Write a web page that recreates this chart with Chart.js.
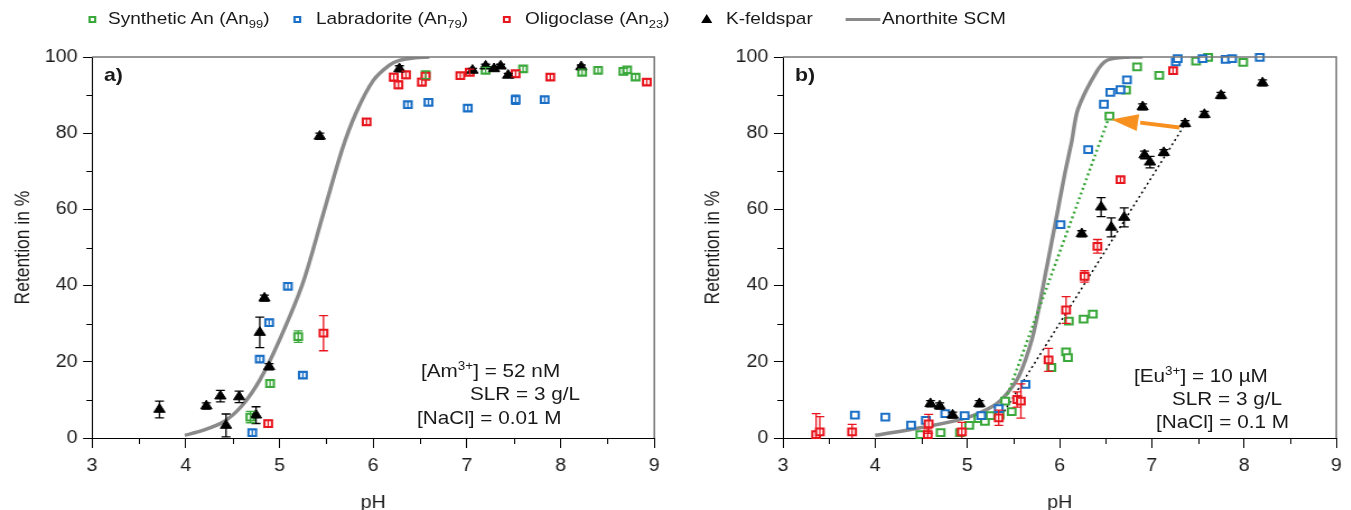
<!DOCTYPE html>
<html>
<head>
<meta charset="utf-8">
<script src="https://cdn.jsdelivr.net/npm/chart.js@4.4.1/dist/chart.umd.min.js"></script>
<style>
  html, body { margin: 0; padding: 0; background: #fff; }
  body { width: 1351px; height: 510px; overflow: hidden; position: relative; }
  #stage { position: absolute; left: 0; top: 0; height: 510px; transform-origin: 0 0;
           font-family: "Liberation Sans", Arial, sans-serif; color: #1a1a1a; }
  canvas { position: absolute; top: 0; }
  .txt { position: absolute; white-space: nowrap; font-size: 18.5px; line-height: 18px; }
  .lg { position: absolute; white-space: nowrap; font-size: 17px; line-height: 17px; top: 10px; }
  sub { font-size: 0.68em; vertical-align: -0.35em; line-height: 0; }
  sup { font-size: 0.65em; vertical-align: 0.55em; line-height: 0; }
  .mk { position: absolute; box-sizing: border-box; }
  .panel { font-weight: bold; font-size: 19px; }
</style>
</head>
<body>
<div id="stage">
  <canvas id="chartA" height="510"></canvas>
  <canvas id="chartB" height="510"></canvas>
</div>
<script>
// horizontal stretch of the original figure
const S = 1.12;

const GREEN = '#3aa83a';
const BLUE = '#1a6fc6';
const RED = '#e8161e';
const BLACK = '#000000';
const GREY = '#8a8a8a';
const ORANGE = '#f7901e';

// ---- panel a) Am(III), 52 nM ----
const phSynA  = [4.69, 4.90, 5.20, 6.56, 7.20, 7.60, 8.23, 8.40, 8.67, 8.71, 8.80];
const retSynA = [5.5, 14.3, 26.6, 95.3, 96.5, 96.9, 96.0, 96.5, 96.2, 96.6, 94.7];
const errSynA = [1.5, 1.0, 1.5, 1.0, 0.8, 0.8, 0.8, 0.8, 0.8, 0.8, 0.8];

const phLabA  = [4.71, 4.79, 4.89, 5.09, 5.25, 6.37, 6.59, 7.01, 7.52, 7.83];
const retLabA = [1.4, 20.7, 30.3, 39.8, 16.5, 87.5, 88.1, 86.6, 88.8, 88.8];
const errLabA = [0.8, 0.8, 0.8, 0.8, 0.8, 0.8, 0.8, 0.8, 1.2, 0.8];

const phOliA  = [4.88, 5.47, 5.93, 6.22, 6.27, 6.35, 6.52, 6.56, 6.93, 7.03, 7.52, 7.89, 8.92];
const retOliA = [3.8, 27.5, 83.0, 94.7, 92.7, 95.3, 93.4, 95.0, 95.1, 96.0, 95.6, 94.7, 93.4];
const errOliA = [0.8, 4.6, 0.8, 1.0, 1.0, 1.0, 1.0, 1.0, 0.8, 0.8, 0.8, 0.8, 0.8];

const phKfA  = [3.72, 4.22, 4.37, 4.43, 4.57, 4.75, 4.79, 4.84, 4.89, 5.43, 6.28, 7.06, 7.20, 7.29, 7.36, 7.44, 8.22];
const retKfA = [7.5, 8.4, 11.0, 3.3, 10.8, 6.0, 27.7, 36.7, 18.7, 79.2, 96.9, 96.5, 97.6, 96.9, 97.6, 95.2, 97.4];
const errKfA = [2.2, 0.8, 1.5, 3.0, 1.5, 2.2, 4.0, 0.8, 0.8, 0.8, 0.8, 0.5, 0.5, 0.5, 0.5, 0.5, 0.5];

const phScmA  = [3.99, 4.18, 4.40, 4.59, 4.79, 5.00, 5.25, 5.46, 5.67, 5.82, 6.00, 6.17, 6.28, 6.45, 6.60];
const retScmA = [0.7, 2.0, 4.2, 8.2, 15.2, 25.7, 40.7, 58.2, 75.8, 85.5, 93.8, 97.8, 99.1, 99.8, 100];

// ---- panel b) Eu(III), 10 uM ----
const phSynB  = [4.49, 4.71, 4.92, 5.02, 5.12, 5.19, 5.25, 5.35, 5.41, 5.48, 5.91, 6.07, 6.09, 6.10, 6.26, 6.36, 6.54, 6.72, 6.84, 7.08, 7.48, 7.61, 7.99];
const retSynB = [0.9, 1.4, 1.4, 3.3, 5.1, 4.4, 5.9, 6.0, 9.7, 6.9, 18.5, 22.6, 21.1, 30.7, 31.2, 32.5, 84.5, 91.3, 97.4, 95.2, 98.9, 99.9, 98.6];

const phLabB  = [3.78, 4.11, 4.39, 4.55, 4.76, 4.97, 5.15, 5.34, 5.63, 6.01, 6.31, 6.48, 6.55, 6.66, 6.73, 7.26, 7.28, 7.55, 7.80, 7.87, 8.17];
const retLabB = [6.0, 5.5, 3.4, 4.6, 6.4, 5.9, 5.9, 7.7, 14.1, 56.0, 75.7, 87.6, 90.7, 91.4, 94.0, 98.7, 99.6, 99.6, 99.4, 99.6, 99.9];

const phOliB  = [3.36, 3.40, 3.75, 4.57, 4.58, 4.94, 5.34, 5.54, 5.58, 5.88, 6.07, 6.27, 6.41, 6.66, 7.23];
const retOliB = [0.9, 1.6, 1.6, 0.9, 3.7, 1.6, 5.3, 10.1, 9.7, 20.5, 33.6, 42.4, 50.3, 67.8, 96.4];
const errOliB = [5.5, 4.0, 2.0, 1.5, 2.5, 2.5, 2.0, 2.0, 4.5, 3.0, 3.5, 1.5, 1.8, 0.8, 0.8];

const phKfB  = [4.60, 4.70, 4.84, 5.13, 6.24, 6.45, 6.56, 6.70, 6.90, 6.92, 6.98, 7.13, 7.36, 7.57, 7.75, 8.20];
const retKfB = [9.0, 8.4, 6.0, 9.0, 53.6, 60.6, 55.3, 57.9, 86.9, 74.3, 72.4, 74.9, 82.5, 84.9, 89.9, 93.2];
const errKfB = [0.8, 0.8, 0.8, 0.8, 0.8, 2.5, 2.5, 2.5, 0.8, 1.0, 1.5, 0.8, 0.8, 0.8, 0.8, 0.8];

const phScmB  = [4.00, 4.49, 4.99, 5.28, 5.42, 5.56, 5.70, 5.78, 5.85, 5.92, 5.99, 6.06, 6.13, 6.20, 6.40, 6.52, 6.77, 6.90];
const retScmB = [0.7, 2.7, 5.3, 8.4, 11.4, 16.3, 25.9, 34.7, 43.5, 52.2, 61.0, 69.8, 77.7, 86.4, 96.1, 99.2, 100, 100];

const phTrendSyn  = [5.40, 6.54];
const retTrendSyn = [9.0, 84.5];
const phTrendKf   = [5.40, 7.34];
const retTrendKf  = [7.0, 81.6];
const phArrow  = [7.30, 6.56];
const retArrow = [81.5, 83.6];

// axis ticks
const xMajor = [3, 4, 5, 6, 7, 8, 9];
const xMinor = [3.5, 4.5, 5.5, 6.5, 7.5, 8.5];
const yMajor = [0, 20, 40, 60, 80, 100];
const yMinor = [10, 30, 50, 70, 90];

const pts = (xs, ys) => xs.map((x, i) => ({ x: x, y: ys[i] }));

function squares(label, xs, ys, errs, color) {
  return {
    label: label, data: pts(xs, ys), errors: errs, showLine: false,
    pointStyle: 'rect', pointRadius: 4.8, borderWidth: 2,
    borderColor: color, backgroundColor: '#fff', clip: false
  };
}
function triangles(label, xs, ys, errs) {
  return {
    label: label, data: pts(xs, ys), errors: errs, showLine: false,
    pointStyle: 'triangle', pointRadius: 5.8, borderWidth: 1,
    borderColor: BLACK, backgroundColor: BLACK, clip: false
  };
}
function line(xs, ys, color, width, dash) {
  return {
    data: pts(xs, ys), showLine: true, pointRadius: 0, borderColor: color,
    borderWidth: width, borderDash: dash || [], tension: 0.3, fill: false
  };
}

// error bars, minor ticks, box frame, arrow
const extras = {
  id: 'extras',
  afterDatasetsDraw(chart) {
    const ctx = chart.ctx, x = chart.scales.x, y = chart.scales.y;
    ctx.save();
    chart.data.datasets.forEach(ds => {
      if (!ds.errors) return;
      ctx.strokeStyle = ds.borderColor;
      ctx.lineWidth = 1.3;
      ds.data.forEach((p, i) => {
        const e = ds.errors[i];
        if (!e) return;
        const px = x.getPixelForValue(p.x);
        const y1 = y.getPixelForValue(Math.max(0, p.y - e)), y2 = y.getPixelForValue(p.y + e);
        ctx.beginPath();
        ctx.moveTo(px, y1); ctx.lineTo(px, y2);
        if (p.y - e > 0) { ctx.moveTo(px - 4, y1); ctx.lineTo(px + 4, y1); }
        ctx.moveTo(px - 4, y2); ctx.lineTo(px + 4, y2);
        ctx.stroke();
      });
    });
    const arrow = chart.options.plugins.extras.arrow;
    if (arrow) {
      const x0 = x.getPixelForValue(arrow.xs[0]), y0 = y.getPixelForValue(arrow.ys[0]);
      const x1 = x.getPixelForValue(arrow.xs[1]), y1 = y.getPixelForValue(arrow.ys[1]);
      const ang = Math.atan2(y1 - y0, x1 - x0);
      const len = 24, half = 8.5;
      const bx = x1 - len * Math.cos(ang), by = y1 - len * Math.sin(ang);
      ctx.strokeStyle = ORANGE; ctx.fillStyle = ORANGE; ctx.lineWidth = 4;
      ctx.beginPath(); ctx.moveTo(x0, y0); ctx.lineTo(bx + 2, by); ctx.stroke();
      ctx.beginPath();
      ctx.moveTo(x1, y1);
      ctx.lineTo(bx + half * Math.sin(ang), by - half * Math.cos(ang));
      ctx.lineTo(bx - half * Math.sin(ang), by + half * Math.cos(ang));
      ctx.closePath(); ctx.fill();
    }
    ctx.restore();
  },
  afterDraw(chart) {
    const ctx = chart.ctx, a = chart.chartArea, x = chart.scales.x, y = chart.scales.y;
    ctx.save();
    ctx.strokeStyle = '#000'; ctx.lineWidth = 1;
    ctx.beginPath();
    xMinor.forEach(v => {
      const px = Math.round(x.getPixelForValue(v)) + 0.5;
      ctx.moveTo(px, a.bottom); ctx.lineTo(px, a.bottom + 6);
    });
    yMinor.forEach(v => {
      const py = Math.round(y.getPixelForValue(v)) + 0.5;
      ctx.moveTo(a.left, py); ctx.lineTo(a.left - 5, py);
    });
    ctx.stroke();
    ctx.strokeStyle = '#777'; ctx.lineWidth = 1.5;
    ctx.beginPath();
    ctx.moveTo(a.left, a.top); ctx.lineTo(a.right, a.top); ctx.lineTo(a.right, a.bottom);
    ctx.stroke();
    ctx.restore();
  }
};

const tickFont = { family: '"Liberation Sans", Arial, sans-serif', size: 17.5 };
const pHFont = { family: '"Liberation Sans", Arial, sans-serif', size: 17.5, lineHeight: 0.8 };

function options(plotLeft, plotRight, width, arrow) {
  return {
    responsive: false,
    animation: false,
    devicePixelRatio: 1,
    layout: { padding: { top: 57, right: width - plotRight, bottom: 0, left: 0 } },
    plugins: { legend: { display: false }, tooltip: { enabled: false }, extras: { arrow: arrow } },
    scales: {
      x: {
        type: 'linear', min: 3, max: 9,
        afterFit: s => { s.height = 72; },
        afterBuildTicks: s => { s.ticks = xMajor.map(v => ({ value: v })); },
        ticks: { font: tickFont, color: '#1a1a1a', padding: 8, maxRotation: 0 },
        grid: { drawOnChartArea: false, tickLength: 10, tickColor: '#000' },
        border: { color: '#000', width: 1 },
        title: { display: true, text: 'pH', font: pHFont, color: '#1a1a1a', padding: { top: 0, bottom: 0 } }
      },
      y: {
        type: 'linear', min: 0, max: 100,
        afterFit: s => { s.width = plotLeft; },
        afterBuildTicks: s => { s.ticks = yMajor.map(v => ({ value: v })); },
        ticks: { font: tickFont, color: '#1a1a1a', padding: 5 },
        grid: { drawOnChartArea: false, tickLength: 8, tickColor: '#000' },
        border: { color: '#000', width: 1 },
        title: { display: true, text: 'Retention in %', font: tickFont, color: '#1a1a1a', padding: { top: 11, bottom: 0 } }
      }
    }
  };
}

const stage = document.getElementById('stage');
stage.style.width = (1351 / S) + 'px';
stage.style.transform = 'scaleX(' + S + ')';

const cA = document.getElementById('chartA');
const wA = 685 / S;
cA.width = wA; cA.style.left = '0px';
new Chart(cA, {
  type: 'scatter',
  data: {
    datasets: [
      triangles('K-feldspar', phKfA, retKfA, errKfA),
      squares('Oligoclase (An23)', phOliA, retOliA, errOliA, RED),
      squares('Labradorite (An79)', phLabA, retLabA, errLabA, BLUE),
      squares('Synthetic An (An99)', phSynA, retSynA, errSynA, GREEN),
      line(phScmA, retScmA, GREY, 3.5)
    ]
  },
  options: options(92 / S, 655 / S, wA, null),
  plugins: [extras]
});

const cB = document.getElementById('chartB');
const offB = 690;
const wB = (1351 - offB) / S;
cB.width = wB; cB.style.left = (offB / S) + 'px';
new Chart(cB, {
  type: 'scatter',
  data: {
    datasets: [
      triangles('K-feldspar', phKfB, retKfB, errKfB),
      squares('Oligoclase (An23)', phOliB, retOliB, errOliB, RED),
      squares('Labradorite (An79)', phLabB, retLabB, null, BLUE),
      squares('Synthetic An (An99)', phSynB, retSynB, null, GREEN),
      line(phTrendSyn, retTrendSyn, GREEN, 2.5, [2, 3]),
      line(phTrendKf, retTrendKf, BLACK, 1.5, [2, 3]),
      line(phScmB, retScmB, GREY, 3.5)
    ]
  },
  options: options((783 - offB) / S, (1347 - offB) / S, wB, { xs: phArrow, ys: retArrow }),
  plugins: [extras]
});

// legend and annotation text (positions in page pixels)
function addText(cls, html, px, cy) {
  const d = document.createElement('div');
  d.className = cls;
  d.innerHTML = html;
  d.style.left = (px / S) + 'px';
  if (cy !== null) d.style.top = (cy - 9) + 'px';
  stage.appendChild(d);
  return d;
}
function addMark(kind, color, cx, cy) {
  const m = document.createElement('div');
  m.className = 'mk';
  if (kind === 'sq') {
    Object.assign(m.style, { width: '7px', height: '7px', border: '2px solid ' + color,
      left: (cx / S - 3.5) + 'px', top: (cy - 3.5) + 'px', background: '#fff' });
  } else if (kind === 'tri') {
    Object.assign(m.style, { width: '0', height: '0', borderLeft: '5px solid transparent',
      borderRight: '5px solid transparent', borderBottom: '9px solid ' + color,
      left: (cx / S - 5) + 'px', top: (cy - 5) + 'px' });
  } else {
    Object.assign(m.style, { width: (34 / S) + 'px', height: '3px', background: color,
      left: (cx / S) + 'px', top: (cy - 1) + 'px' });
  }
  stage.appendChild(m);
}

const legendY = 19;
addMark('sq', GREEN, 92, legendY);
addText('lg', 'Synthetic An (An<sub>99</sub>)', 108, null);
addMark('sq', BLUE, 297, legendY);
addText('lg', 'Labradorite (An<sub>79</sub>)', 316, null);
addMark('sq', RED, 507, legendY);
addText('lg', 'Oligoclase (An<sub>23</sub>)', 525, null);
addMark('tri', BLACK, 707, legendY);
addText('lg', 'K-feldspar', 726, null);
addMark('line', GREY, 846, legendY);
addText('lg', 'Anorthite SCM', 882, null);

addText('txt panel', 'a)', 104, 75);
addText('txt panel', 'b)', 795, 75);

addText('txt', '[Am<sup>3+</sup>] = 52 nM', 421, 371);
addText('txt', 'SLR = 3 g/L', 470, 394);
addText('txt', '[NaCl] = 0.01 M', 417, 418);

addText('txt', '[Eu<sup>3+</sup>] = 10 µM', 1134, 376);
addText('txt', 'SLR = 3 g/L', 1172, 399);
addText('txt', '[NaCl] = 0.1 M', 1156, 422);
</script>
</body>
</html>
